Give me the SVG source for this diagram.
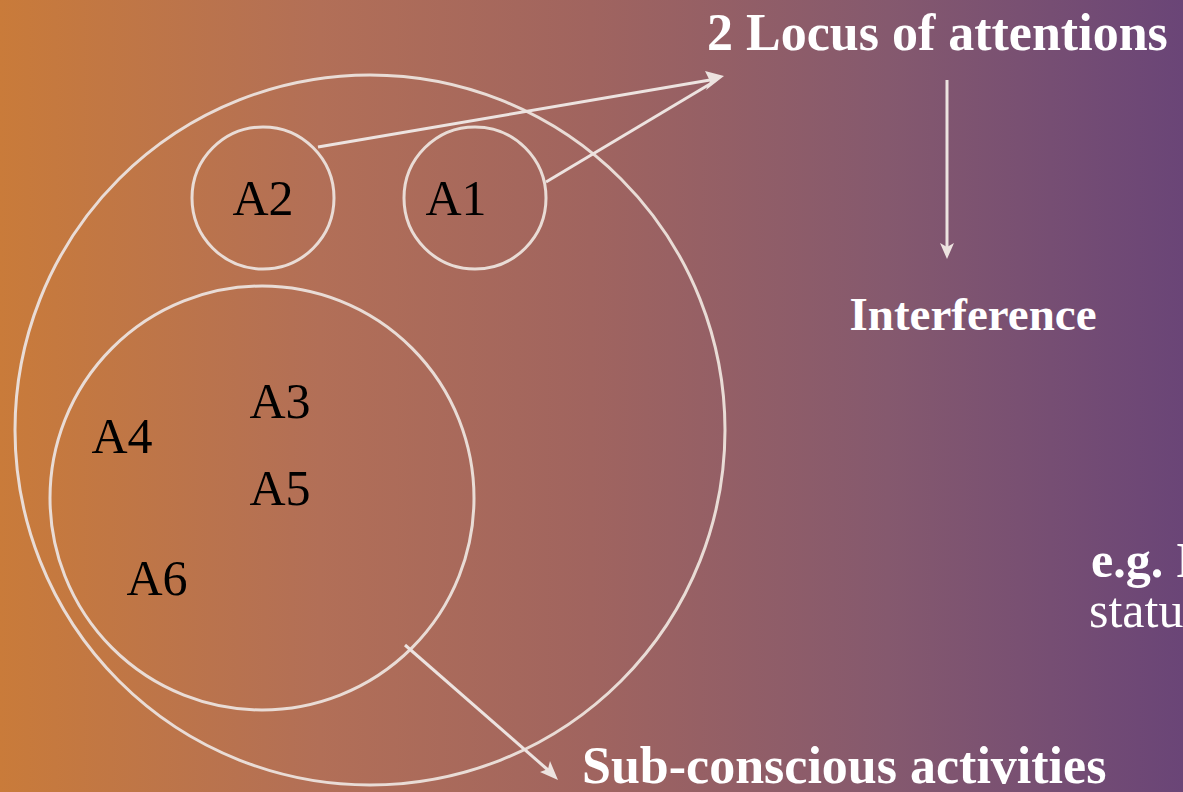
<svg xmlns="http://www.w3.org/2000/svg" width="1183" height="792" viewBox="0 0 1183 792">
<defs>
<linearGradient id="bg" x1="0" y1="0" x2="1" y2="0">
<stop offset="0" stop-color="#C97B3A"/>
<stop offset="0.27" stop-color="#B26F57"/>
<stop offset="0.5" stop-color="#A0645F"/>
<stop offset="0.75" stop-color="#85596E"/>
<stop offset="1" stop-color="#6A4577"/>
</linearGradient>
<style>
.ring{fill:none;stroke:#E9DCD6;stroke-width:3}
.lbl{font-family:"Liberation Serif","Times New Roman",serif;font-size:50px;fill:#000}
.ttl{font-family:"Liberation Serif","Times New Roman",serif;font-weight:bold;font-size:52px;fill:#fff}
.reg{font-family:"Liberation Serif","Times New Roman",serif;font-size:50px;fill:#fff}
.con{stroke:#EDE3E0;stroke-width:3;fill:none}
.head{fill:#EDE3E0}
</style>
</defs>
<rect width="1183" height="792" fill="url(#bg)"/>
<g id="outer"><circle class="ring" cx="370" cy="430" r="355"/></g>
<g id="A2"><circle class="ring" cx="263" cy="198" r="71"/><text class="lbl" x="263" y="215" text-anchor="middle">A2</text></g>
<g id="A1"><circle class="ring" cx="475" cy="198" r="71"/><text class="lbl" x="456" y="215" text-anchor="middle">A1</text></g>
<g id="inner"><circle class="ring" cx="262" cy="498" r="212"/>
<text class="lbl" x="280" y="418" text-anchor="middle">A3</text>
<text class="lbl" x="122" y="453" text-anchor="middle">A4</text>
<text class="lbl" x="280" y="505" text-anchor="middle">A5</text>
<text class="lbl" x="157" y="595" text-anchor="middle">A6</text>
</g>
<g id="connectors">
<line class="con" x1="318" y1="147" x2="710" y2="80"/>
<line class="con" x1="546" y1="182" x2="710" y2="84"/>
<path class="head" d="M724,76 L705,71 L710,81 L706,90 Z"/>
<line class="con" x1="947" y1="80" x2="947" y2="248"/>
<path class="head" d="M947,259 L940,243 L947,247 L954,243 Z"/>
<line class="con" x1="405" y1="645" x2="548" y2="770"/>
<path class="head" d="M558,780 L540,772 L548,769 L550,761 Z"/>
</g>
<g id="title"><text class="ttl" x="707" y="50">2 Locus of attentions</text></g>
<g id="interference"><text class="ttl" x="973" y="330" text-anchor="middle" style="font-size:47px">Interference</text></g>
<g id="sub"><text class="ttl" x="582" y="783">Sub-conscious activities</text></g>
<g id="eg"><text class="ttl" x="1091" y="577" style="font-size:50px">e.g. I</text><text class="reg" x="1089" y="627" style="font-size:50px">status</text></g>
</svg>
